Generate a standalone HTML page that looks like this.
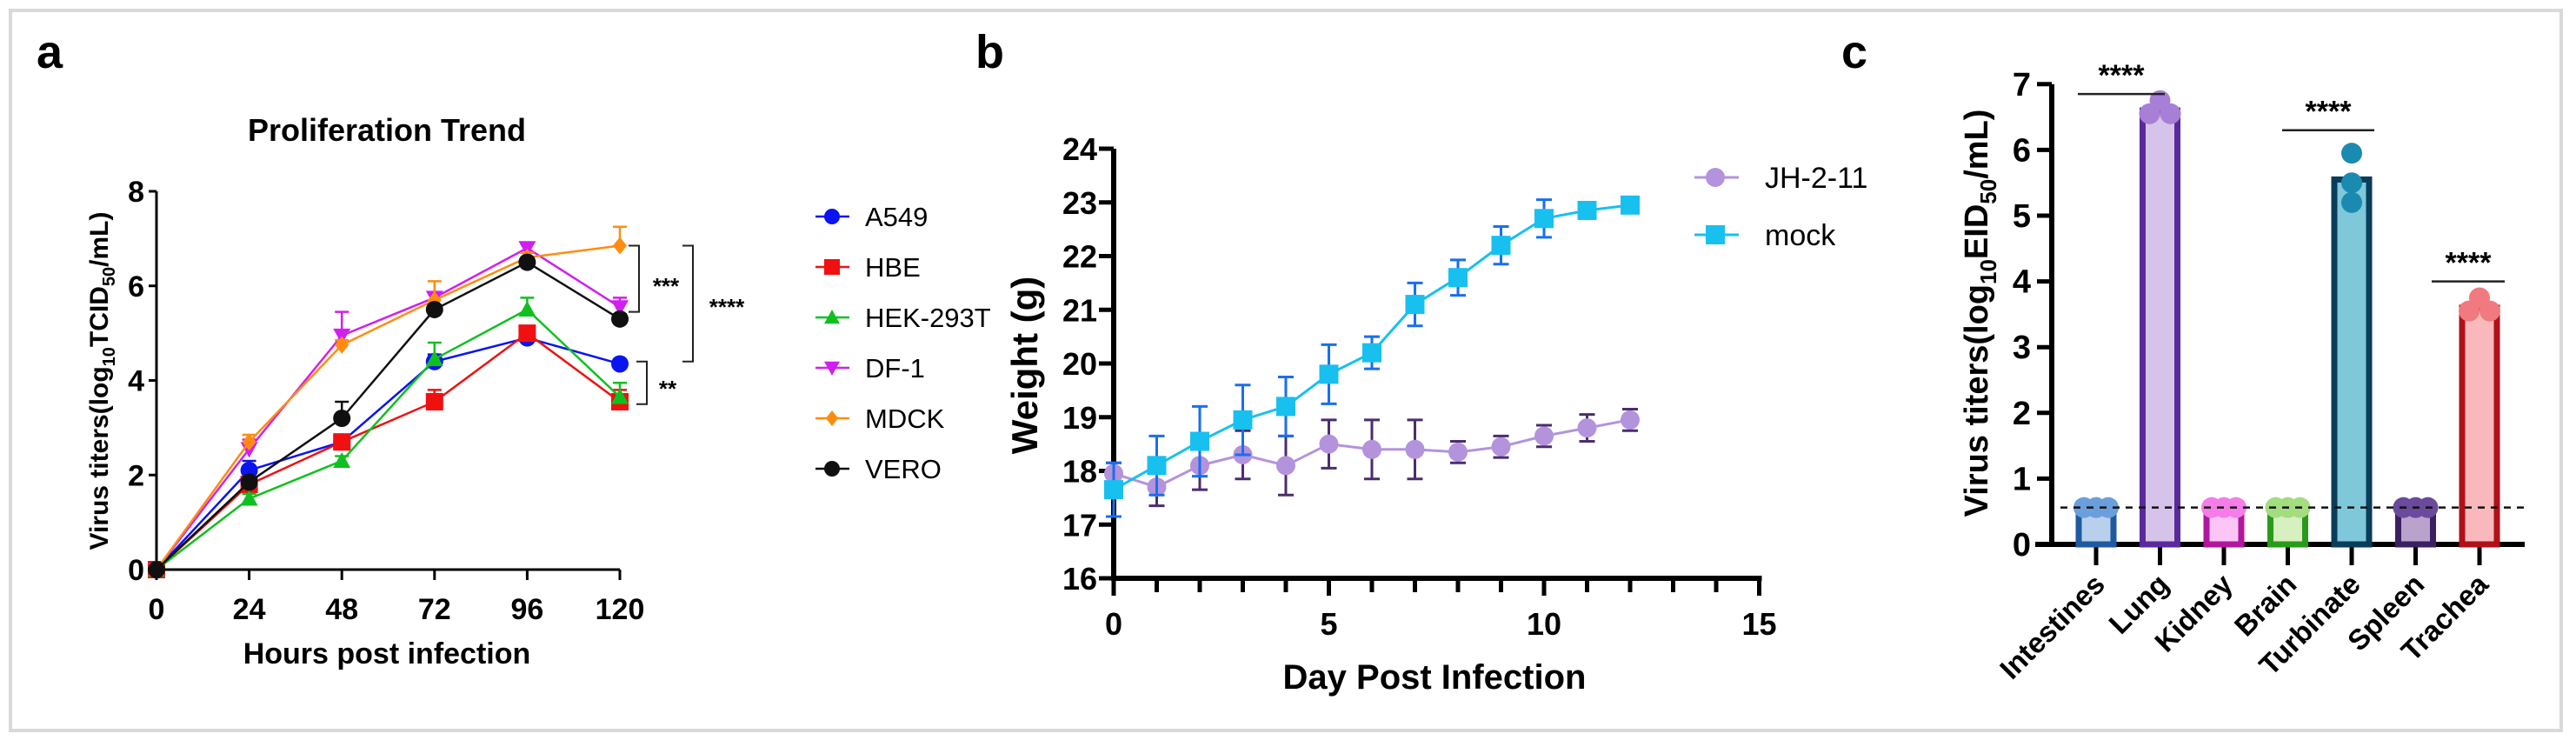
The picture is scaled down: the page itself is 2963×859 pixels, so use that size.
<!DOCTYPE html>
<html><head><meta charset="utf-8"><style>
body{margin:0;background:#fff}
svg{display:block}
text{font-family:"Liberation Sans",sans-serif}
.nar{font-family:"Liberation Sans Narrow","Liberation Sans",sans-serif}
</style></head><body>
<svg id="fig" width="2963" height="859" viewBox="0 0 2963 859" xmlns="http://www.w3.org/2000/svg">
<rect x="12" y="12" width="2934" height="828" fill="none" stroke="#d9d9d9" stroke-width="4"/>
<text x="42" y="78" font-size="54" font-weight="bold">a</text>
<text x="1122" y="78" font-size="54" font-weight="bold">b</text>
<text x="2118" y="78" font-size="54" font-weight="bold">c</text>
<text class="nar" x="445" y="162" font-size="36" font-weight="bold" text-anchor="middle">Proliferation Trend</text>
<text class="nar" x="445" y="763" font-size="34" font-weight="bold" text-anchor="middle">Hours post infection</text>
<text x="0" y="0" font-size="30" font-weight="bold" text-anchor="middle" transform="translate(124,438) rotate(-90)">Virus titers(log<tspan font-size="20" dy="8">10</tspan><tspan dy="-8">TCID</tspan><tspan font-size="20" dy="8">50</tspan><tspan dy="-8">/mL)</tspan></text>
<text x="1650" y="792" font-size="40" font-weight="bold" text-anchor="middle">Day Post Infection</text>
<text x="0" y="0" font-size="42" font-weight="bold" text-anchor="middle" transform="translate(1193,420) rotate(-90)">Weight (g)</text>
<text x="0" y="0" font-size="38" font-weight="bold" text-anchor="middle" transform="translate(2286,360) rotate(-90)">Virus titers(log<tspan font-size="26" dy="10">10</tspan><tspan dy="-10">EID</tspan><tspan font-size="26" dy="10">50</tspan><tspan dy="-10">/mL)</tspan></text>
</svg>
<script>
// ---------- Panel a data ----------
const aHours=[0,24,48,72,96,120];
const aTicksY=[0,2,4,6,8];
const aNames=["A549","HBE","HEK-293T","DF-1","MDCK","VERO"];
const aA549=[0,2.1,2.7,4.4,4.9,4.35];
const aHBE=[0,1.8,2.7,3.55,5.0,3.55];
const aHEK=[0,1.5,2.3,4.45,5.5,3.65];
const aDF1=[0,2.55,4.95,5.75,6.8,5.55];
const aMDCK=[0,2.7,4.75,5.7,6.6,6.85];
const aVERO=[0,1.85,3.2,5.5,6.5,5.3];
const aErrA549=[0,0.2,0.1,0.15,0.2,0.1];
const aErrHBE=[0,0.1,0.1,0.25,0.1,0.25];
const aErrHEK=[0,0.1,0.1,0.35,0.25,0.3];
const aErrDF1=[0,0.2,0.5,0.1,0.1,0.2];
const aErrMDCK=[0,0.15,0.1,0.4,0.1,0.4];
const aErrVERO=[0,0.1,0.35,0.1,0.1,0.1];
// ---------- Panel b data ----------
const bDays=[0,1,2,3,4,5,6,7,8,9,10,11,12];
const bTicksY=[16,17,18,19,20,21,22,23,24];
const bTicksX=[0,5,10,15];
const bMock=[17.65,18.1,18.55,18.95,19.2,19.8,20.2,21.1,21.6,22.2,22.7,22.85,22.95];
const bMockErr=[0.5,0.55,0.65,0.65,0.55,0.55,0.3,0.4,0.33,0.35,0.35,0,0];
const bJH=[17.95,17.7,18.1,18.3,18.1,18.5,18.4,18.4,18.35,18.45,18.65,18.8,18.95];
const bJHErr=[0.2,0.35,0.45,0.45,0.55,0.45,0.55,0.55,0.2,0.2,0.2,0.25,0.2];
// ---------- Panel c data ----------
const cOrgans=["Intestines","Lung","Kidney","Brain","Turbinate","Spleen","Trachea"];
const cTicksY=[0,1,2,3,4,5,6,7];
const cMeans=[0.56,6.6,0.56,0.56,5.55,0.56,3.6];
const cRep1=[0.56,6.75,0.56,0.56,5.95,0.56,3.75];
const cRep2=[0.56,6.55,0.56,0.56,5.5,0.56,3.55];
const cRep3=[0.56,6.55,0.56,0.56,5.2,0.56,3.55];
const cLimit=0.56;

const NS="http://www.w3.org/2000/svg";
const svg=document.getElementById('fig');
function mk(tag,attrs,parent){const e=document.createElementNS(NS,tag);for(const k in attrs)e.setAttribute(k,attrs[k]);(parent||svg).appendChild(e);return e;}

// ===== Panel a =====
const xa=h=>180+h*(533/120);
const ya=v=>655-v*54.375;
let g=mk('g',{});


mk('line',{x1:180,y1:ya(8),x2:180,y2:ya(0)+1.5,stroke:'#000','stroke-width':3},g);
mk('line',{x1:178.5,y1:ya(0),x2:xa(120),y2:ya(0),stroke:'#000','stroke-width':3},g);
aTicksY.forEach(v=>{
  mk('line',{x1:171,y1:ya(v),x2:180,y2:ya(v),stroke:'#000','stroke-width':3},g);
  const t=mk('text',{x:166,y:ya(v)+12,'font-size':34,'font-weight':'bold','text-anchor':'end',class:'nar'},g);
  t.textContent=v;
  
  
});
aHours.forEach(h=>{
  mk('line',{x1:xa(h),y1:ya(0),x2:xa(h),y2:ya(0)+12,stroke:'#000','stroke-width':3},g);
  const t=mk('text',{x:xa(h),y:712,'font-size':34,'font-weight':'bold','text-anchor':'middle',class:'nar'},g);
  t.textContent=h;
  
  
});
const aSeries=[aA549,aHBE,aHEK,aDF1,aMDCK,aVERO];
const aErrs=[aErrA549,aErrHBE,aErrHEK,aErrDF1,aErrMDCK,aErrVERO];
const aColors=["#0a14f0","#f01010","#10c020","#d020f0","#ff8c10","#101010"];
const aShapes=["circle","square","tri","dtri","diamond","circle"];
function marker(shape,x,y,r,color,parent){
  if(shape==="circle")return mk('circle',{cx:x,cy:y,r:r,fill:color},parent);
  if(shape==="square")return mk('rect',{x:x-r,y:y-r,width:2*r,height:2*r,fill:color},parent);
  if(shape==="tri")return mk('polygon',{points:`${x},${y-r} ${x+r},${y+r*0.8} ${x-r},${y+r*0.8}`,fill:color},parent);
  if(shape==="dtri")return mk('polygon',{points:`${x},${y+r} ${x+r},${y-r*0.8} ${x-r},${y-r*0.8}`,fill:color},parent);
  return mk('polygon',{points:`${x},${y-r} ${x+r*0.8},${y} ${x},${y+r} ${x-r*0.8},${y}`,fill:color},parent);
}
aSeries.forEach((s,i)=>{
  const sg=mk('g',{});
  
  
  mk('polyline',{points:s.map((v,j)=>xa(aHours[j])+','+ya(v)).join(' '),fill:'none',stroke:aColors[i],'stroke-width':2.5},sg);
  s.forEach((v,j)=>{
    const e=aErrs[i][j];
    if(e>0){
      mk('line',{x1:xa(aHours[j]),y1:ya(v),x2:xa(aHours[j]),y2:ya(v+e),stroke:aColors[i],'stroke-width':2.5},sg);
      mk('line',{x1:xa(aHours[j])-8,y1:ya(v+e),x2:xa(aHours[j])+8,y2:ya(v+e),stroke:aColors[i],'stroke-width':2.5},sg);
    }
    const m=marker(aShapes[i],xa(aHours[j]),ya(v),10,aColors[i],sg);
    
    
  });
});
// legend a
aNames.forEach((n,i)=>{
  const y=249+i*58;
  const lg=mk('g',{});
  
  
  mk('line',{x1:938,y1:y,x2:977,y2:y,stroke:aColors[i],'stroke-width':2.5},lg);
  marker(aShapes[i],957,y,9,aColors[i],lg);
  const t=mk('text',{x:995,y:y+11,'font-size':31,class:'nar'},lg);
  t.textContent=n;
});
// significance brackets a
function bracket(x,y1,y2,label,tx,ty,name){
  const bg=mk('g',{});
  
  
  mk('polyline',{points:`${x-12},${y1} ${x},${y1} ${x},${y2} ${x-12},${y2}`,fill:'none',stroke:'#222','stroke-width':2},bg);
  const t=mk('text',{x:tx,y:ty,'font-size':26,'font-weight':'bold','text-anchor':'middle'},bg);
  t.textContent=label;
}
bracket(735,ya(6.85),ya(5.45),'***',766,338,'a-sig-mdck-vero');
bracket(797,ya(6.85),ya(4.4),'****',836,362,'a-sig-mdck-a549');
bracket(744,ya(4.4),ya(3.5),'**',768,456,'a-sig-a549-hbe');

// ===== Panel b =====
const xb=d=>1281+d*49.5;
const yb=v=>665-(v-16)*61.75;
g=mk('g',{});


mk('line',{x1:1281,y1:yb(24),x2:1281,y2:yb(16)+3,stroke:'#000','stroke-width':6},g);
mk('line',{x1:1278,y1:yb(16),x2:xb(15)+3,y2:yb(16),stroke:'#000','stroke-width':6},g);
bTicksY.forEach(v=>{
  mk('line',{x1:1264,y1:yb(v),x2:1281,y2:yb(v),stroke:'#000','stroke-width':5},g);
  const t=mk('text',{x:1262,y:yb(v)+13,'font-size':36,'font-weight':'bold','text-anchor':'end'},g);
  t.textContent=v;
  
  
});
for(let d=0;d<=15;d++){
  mk('line',{x1:xb(d),y1:yb(16),x2:xb(d),y2:yb(16)+(d%5===0?20:16),stroke:'#000','stroke-width':5},g);
}
bTicksX.forEach(d=>{
  const t=mk('text',{x:xb(d),y:730,'font-size':36,'font-weight':'bold','text-anchor':'middle'},g);
  t.textContent=d;
  
  
});
function bSeries(vals,errs,lineC,errC,shape,name){
  const sg=mk('g',{});
  
  
  mk('polyline',{points:vals.map((v,j)=>xb(bDays[j])+','+yb(v)).join(' '),fill:'none',stroke:lineC,'stroke-width':3},sg);
  vals.forEach((v,j)=>{
    const x=xb(bDays[j]),e=errs[j];
    if(e>0){
      mk('line',{x1:x,y1:yb(v-e),x2:x,y2:yb(v+e),stroke:errC,'stroke-width':3},sg);
      mk('line',{x1:x-9,y1:yb(v+e),x2:x+9,y2:yb(v+e),stroke:errC,'stroke-width':3},sg);
      mk('line',{x1:x-9,y1:yb(v-e),x2:x+9,y2:yb(v-e),stroke:errC,'stroke-width':3},sg);
    }
    const m=shape==='square'?mk('rect',{x:x-11,y:yb(v)-11,width:22,height:22,fill:lineC},sg):mk('circle',{cx:x,cy:yb(v),r:11,fill:lineC},sg);
    
    
  });
}
bSeries(bJH,bJHErr,'#b393dc','#4b2d6e','circle','b-series-jh-2-11');
bSeries(bMock,bMockErr,'#18c0f0','#1a6ef0','square','b-series-mock');
[['JH-2-11','#b393dc','circle',204],['mock','#18c0f0','square',270]].forEach(([n,c,s,y])=>{
  const lg=mk('g',{});
  
  
  mk('line',{x1:1949,y1:y,x2:2000,y2:y,stroke:c,'stroke-width':3},lg);
  if(s==='circle')mk('circle',{cx:1973,cy:y,r:11,fill:c},lg);else mk('rect',{x:1962,y:y-11,width:22,height:22,fill:c},lg);
  const t=mk('text',{x:2030,y:y+12,'font-size':34},lg);
  t.textContent=n;
});

// ===== Panel c =====
const xc=i=>2411+i*73.5;
const yc=v=>626-v*75.6;
const cFill=["#b8d0ec","#d5c3ea","#fdc5f5","#d7f0c0","#7ec8da","#b9a3cc","#f9b8bc"];
const cStroke=["#1f5aa0","#5a2a9c","#b0169e","#2a9a1a","#0a3d5a","#3a2060","#b01018"];
const cDot=["#6a9fdc","#a77fd6","#f57de8","#a3dd80","#1a8ab0","#6a4a9c","#f07a80"];
g=mk('g',{});


cOrgans.forEach((o,i)=>{
  const bg=mk('g',{});
  
  
  const x=xc(i),top=yc(cMeans[i]);
  mk('rect',{x:x-20,y:top,width:40,height:yc(0)-top,fill:cFill[i],stroke:cStroke[i],'stroke-width':7},bg);
  [cRep1,cRep2,cRep3].forEach((r,k)=>{
    let dx=(k-1)*14;
    if(cMeans[i]>1)dx=(k===0?0:(k===1?-12:12));
    if(i===4)dx=0;
    const c=mk('circle',{cx:x+dx,cy:yc(r[i]),r:12,fill:cDot[i]},bg);
    
    
  });
});
mk('line',{x1:2360,y1:yc(7),x2:2360,y2:yc(0)+3,stroke:'#000','stroke-width':6},g);
mk('line',{x1:2341,y1:yc(0),x2:2904,y2:yc(0),stroke:'#000','stroke-width':6},g);
cTicksY.forEach(v=>{
  mk('line',{x1:2343,y1:yc(v),x2:2360,y2:yc(v),stroke:'#000','stroke-width':5},g);
  const t=mk('text',{x:2336,y:yc(v)+13,'font-size':38,'font-weight':'bold','text-anchor':'end'},g);
  t.textContent=v;
  
  
});
cOrgans.forEach((o,i)=>{
  mk('line',{x1:xc(i),y1:yc(0),x2:xc(i),y2:yc(0)+24,stroke:'#000','stroke-width':5},g);
  const t=mk('text',{x:0,y:0,'font-size':33,'font-weight':'bold','text-anchor':'end',transform:`translate(${xc(i)+12},${yc(0)+48}) rotate(-45)`},g);
  t.textContent=o;
  
  
});
const lim=mk('line',{x1:2370,y1:yc(cLimit),x2:2904,y2:yc(cLimit),stroke:'#111','stroke-width':2.5,'stroke-dasharray':'8,7'});


[[2390,2490,6.85,2440],[2625,2731,6.3,2678],[2797,2881,4.0,2839]].forEach(([a,b,v,tx])=>{
  const sg=mk('g',{});
  
  
  mk('line',{x1:a,y1:yc(v),x2:b,y2:yc(v),stroke:'#222','stroke-width':2.5},sg);
  const t=mk('text',{x:tx,y:yc(v)-10,'font-size':34,'font-weight':'bold','text-anchor':'middle'},sg);
  t.textContent='****';
});
</script>
</body></html>
